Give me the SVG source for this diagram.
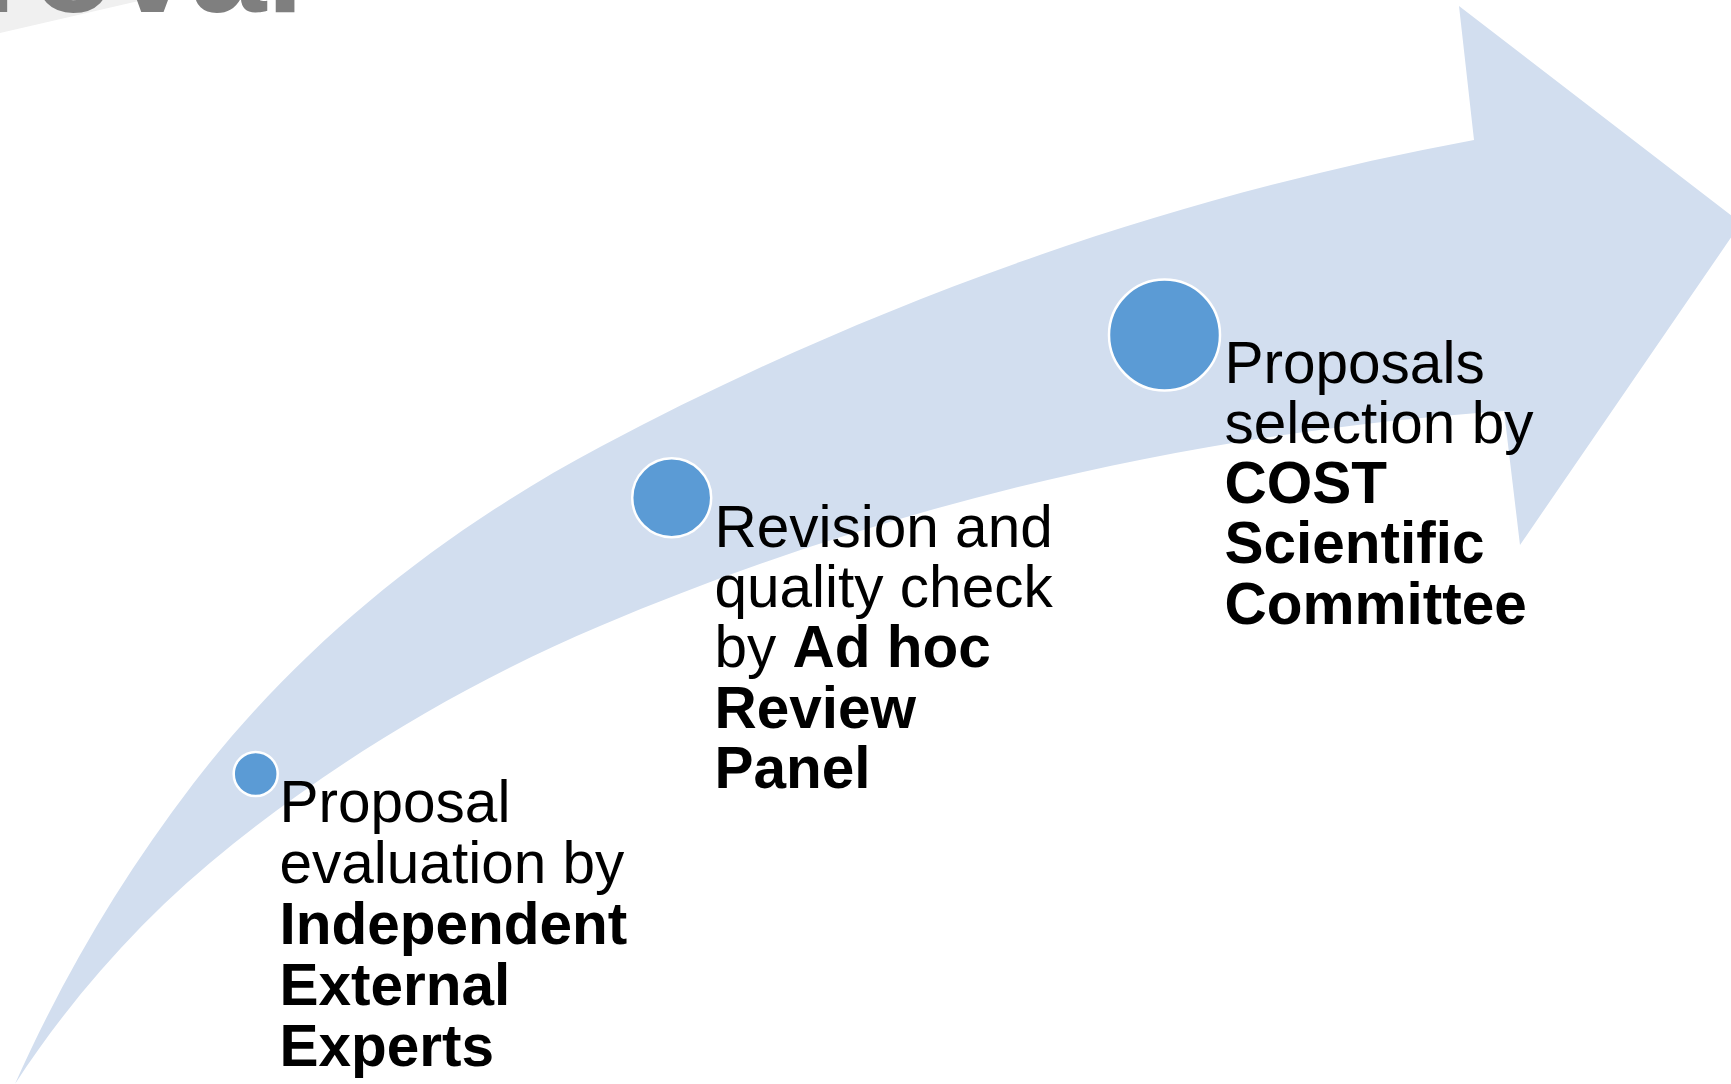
<svg xmlns="http://www.w3.org/2000/svg" width="1731" height="1084" viewBox="0 0 1731 1084">
  <style>
    .t { font-family: "Liberation Sans", Arial, sans-serif; font-size: 58.5px; fill: #000000; }
    .b { font-weight: bold; }
    .dot { fill: #5b9bd5; stroke: #ffffff; stroke-width: 2.5; }
    .title { font-family: "Liberation Sans", Arial, sans-serif; font-size: 136px; font-weight: bold; fill: #7f7f7f; }
  </style>
  <rect x="0" y="0" width="1731" height="1084" fill="#ffffff"/>
  <g id="header">
    <path d="M0,0 L0,33 L143,0 Z" fill="#f0f0f0"/>
    <text class="title" x="-21" y="12">roval</text>
  </g>
  <g id="connectors">
    <path id="arrow" fill="#d2deef" d="M15,1084 C62.5,977.4 122,876.6 193,784 C301.5,642.6 442.7,530.7 600,447 C874.2,301.2 1168.6,196.6 1474,140 L1459,6 L1741,223 L1520,545 L1504,411 C1192.9,432.8 887.1,504.1 600,626 C468.4,681.9 344.9,755 233,844 C147.9,911.7 74.3,992.8 15,1084 Z"/>
  </g>
  <g id="step1">
    <circle class="dot" cx="255.7" cy="774" r="22"/>
    <text class="t" x="279.5" y="822">Proposal</text>
    <text class="t" x="279.5" y="883">evaluation by</text>
    <text class="t b" x="279.5" y="944">Independent</text>
    <text class="t b" x="279.5" y="1005">External</text>
    <text class="t b" x="279.5" y="1066">Experts</text>
  </g>
  <g id="step2">
    <circle class="dot" cx="671.7" cy="497.7" r="39.5"/>
    <text class="t" x="714.5" y="547">Revision and</text>
    <text class="t" x="714.5" y="607">quality check</text>
    <text class="t" x="714.5" y="667">by <tspan class="b">Ad hoc</tspan></text>
    <text class="t b" x="714.5" y="728">Review</text>
    <text class="t b" x="714.5" y="788">Panel</text>
  </g>
  <g id="step3">
    <circle class="dot" cx="1164.5" cy="335" r="55.5"/>
    <text class="t" x="1224.5" y="383">Proposals</text>
    <text class="t" x="1224.5" y="443">selection by</text>
    <text class="t b" x="1224.5" y="503">COST</text>
    <text class="t b" x="1224.5" y="563">Scientific</text>
    <text class="t b" x="1224.5" y="624">Committee</text>
  </g>
</svg>
